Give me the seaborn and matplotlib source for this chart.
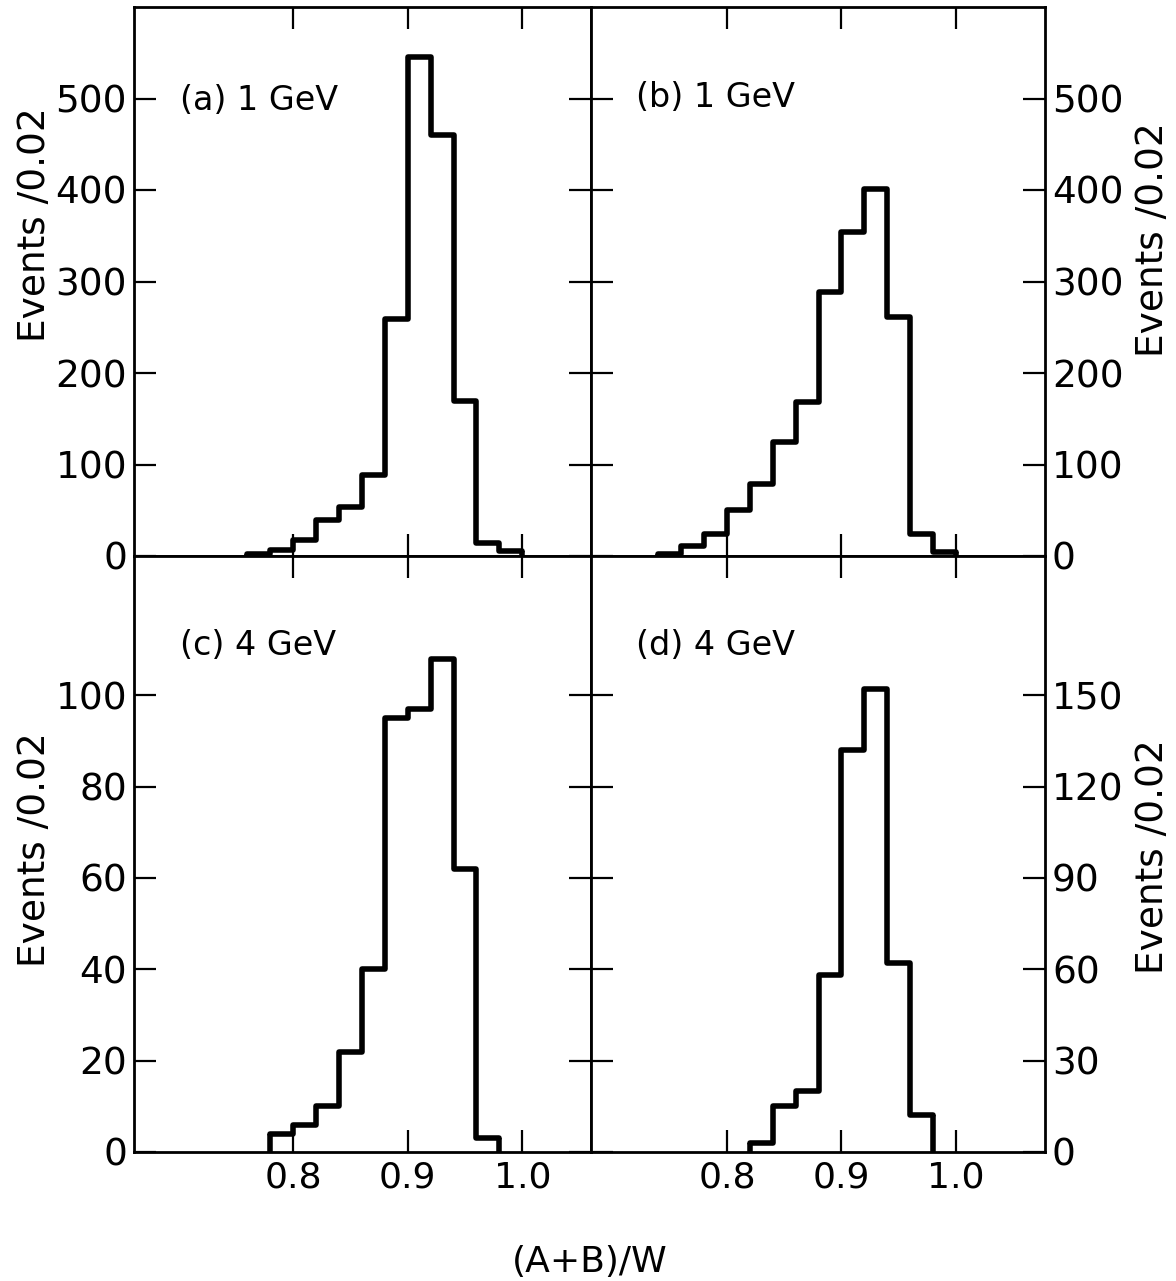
import numpy as np
import pandas as pd
import matplotlib
matplotlib.use("Agg")
import matplotlib.pyplot as plt
import seaborn as sns

# ---------------- data ----------------
bin_width = 0.02

a_start = 0.76   # (a) 1 GeV
a_counts = [2, 7, 18, 39, 54, 89, 259, 545, 460, 169, 14, 5]

b_start = 0.74   # (b) 1 GeV
b_counts = [2, 11, 24, 50, 79, 125, 168, 288, 354, 401, 261, 24, 4]

c_start = 0.78   # (c) 4 GeV
c_counts = [4, 6, 10, 22, 40, 95, 97, 108, 62, 3]

d_start = 0.82   # (d) 4 GeV
d_counts = [3, 15, 20, 58, 132, 152, 62, 12]

panel_labels = ["(a) 1 GeV", "(b) 1 GeV", "(c) 4 GeV", "(d) 4 GeV"]
x_ticks = [0.8, 0.9, 1.0]
x_ticklabels = ["0.8", "0.9", "1.0"]
yticks_top = [0, 100, 200, 300, 400, 500]
yticks_c = [0, 20, 40, 60, 80, 100]
yticks_d = [0, 30, 60, 90, 120, 150]
ylabel_text = "Events /0.02"
xlabel_text = "(A+B)/W"

# ---------------- style ----------------
sns.set_theme(style="white")
plt.rcParams["font.family"] = ["DejaVu Sans"]
plt.rcParams["axes.edgecolor"] = "black"
plt.rcParams["axes.linewidth"] = 2.0

W, H = 1176, 1281
fig = plt.figure(figsize=(W / 100, H / 100), dpi=100)
fig.patch.set_facecolor("white")


def px_axes(l, t, r, b):
    return fig.add_axes([l / W, 1 - b / H, (r - l) / W, (b - t) / H])


ax_a = px_axes(134, 7, 591, 556)
ax_b = px_axes(591, 7, 1045, 556)
ax_c = px_axes(134, 556, 591, 1152)
ax_d = px_axes(591, 556, 1045, 1152)

YTICK_FS = 27
XTICK_FS = 26
LABEL_FS = 27
PANEL_FS = 24
LW = 4


def draw(ax, start, counts, xlim, ylim, yticks, label, side, bottom_row,
         ylabel_y, label_xy):
    edges = [start + bin_width * i for i in range(len(counts) + 1)]
    centers = [e + bin_width / 2 for e in edges[:-1]]
    df = pd.DataFrame({"x": centers, "n": counts})
    sns.histplot(data=df, x="x", weights="n", bins=edges, element="step",
                 fill=False, color="black", linewidth=LW, ax=ax)
    # close the outline down to the baseline at both ends of the histogram
    ax.vlines([edges[0], edges[-1]], 0, [counts[0], counts[-1]],
              color="black", linewidth=LW)
    ax.set_xlim(*xlim)
    ax.set_ylim(*ylim)
    ax.set_xticks(x_ticks)
    ax.set_yticks(yticks)
    ax.set_yticklabels([str(v) for v in yticks])
    if bottom_row:
        ax.set_xticklabels(x_ticklabels)
    ax.tick_params(axis="both", which="both", direction="in", length=16,
                   width=1.6, color="black", top=True, bottom=True,
                   left=True, right=True, labelcolor="black")
    ax.tick_params(axis="y", labelsize=YTICK_FS)
    ax.tick_params(axis="x", labelsize=XTICK_FS, labelbottom=bottom_row,
                   labeltop=False, pad=6)
    if side == "left":
        ax.tick_params(axis="y", labelleft=True, labelright=False, pad=5)
        ax.set_ylabel(ylabel_text, fontsize=LABEL_FS, color="black")
        ax.yaxis.label.set_va("center")
        ax.yaxis.set_label_coords(-0.216, ylabel_y)
    else:
        ax.tick_params(axis="y", labelleft=False, labelright=True, pad=5)
        ax.yaxis.set_label_position("right")
        ax.set_ylabel(ylabel_text, fontsize=LABEL_FS, color="black",
                      rotation=90)
        ax.yaxis.label.set_va("center")
        ax.yaxis.set_label_coords(1.238, ylabel_y)
    ax.set_xlabel("")
    for s in ax.spines.values():
        s.set_visible(True)
        s.set_linewidth(2.0)
        s.set_color("black")
    ax.text(label_xy[0], label_xy[1], label, transform=ax.transAxes,
            fontsize=PANEL_FS, color="black", ha="left", va="center")
    ax.set_facecolor("white")


draw(ax_a, a_start, a_counts, (0.661, 1.060), (0, 600), yticks_top,
     panel_labels[0], "left", False, 0.603, (0.10, 0.83))
draw(ax_b, b_start, b_counts, (0.681, 1.078), (0, 600), yticks_top,
     panel_labels[1], "right", False, 0.576, (0.10, 0.835))
draw(ax_c, c_start, c_counts, (0.661, 1.060), (0, 130.5), yticks_c,
     panel_labels[2], "left", True, 0.507, (0.10, 0.85))
draw(ax_d, d_start, d_counts, (0.681, 1.078), (0, 195.75), yticks_d,
     panel_labels[3], "right", True, 0.495, (0.10, 0.85))

fig.text(590 / W, 1 - 1262 / H, xlabel_text, fontsize=26,
         ha="center", va="center", color="black")

fig.savefig("out.png", dpi=100, facecolor="white")
